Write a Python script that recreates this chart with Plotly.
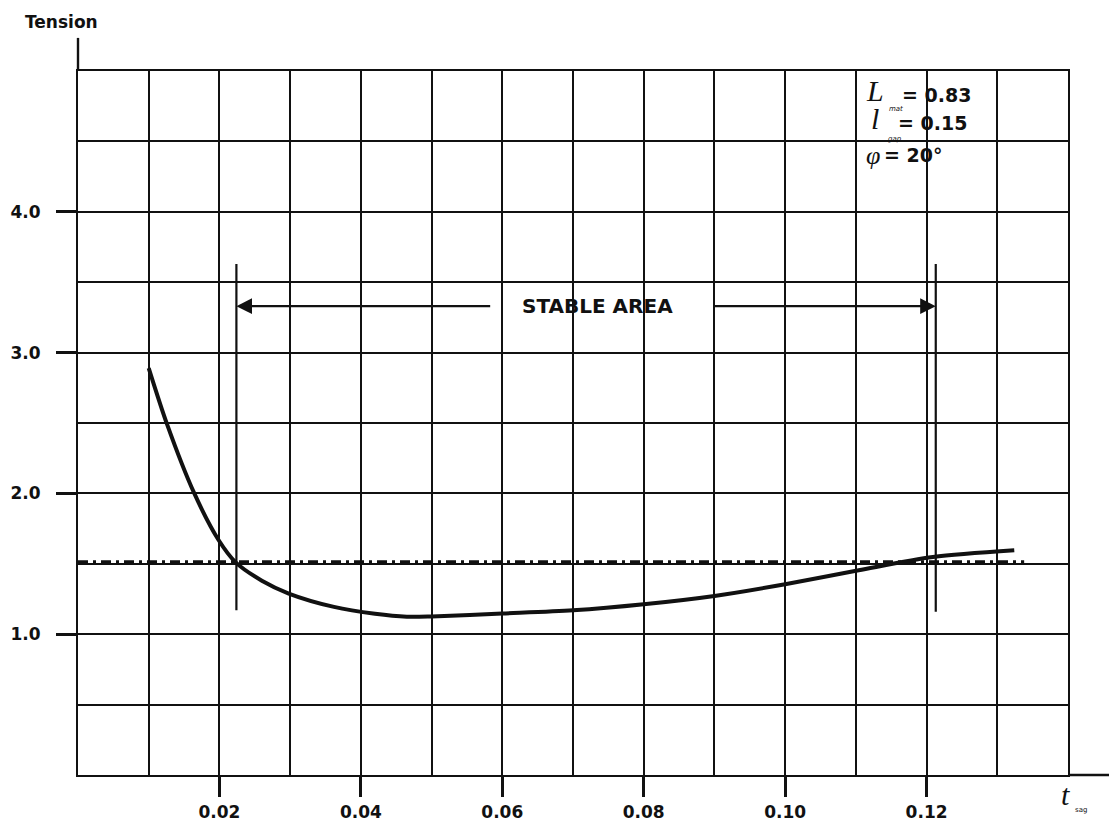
import plotly.graph_objects as go

# ---- data ----
t_sag = [0.0100, 0.0126, 0.0164, 0.0199, 0.0223, 0.0260, 0.0298, 0.0362, 0.0420, 0.0465,
         0.0500, 0.0600, 0.0700, 0.0800, 0.0900, 0.1000, 0.1104, 0.1209, 0.1324]
tension = [2.89, 2.49, 2.005, 1.667, 1.51, 1.38, 1.289, 1.194, 1.145, 1.124,
           1.126, 1.147, 1.170, 1.213, 1.272, 1.355, 1.454, 1.548, 1.596]

limit_tension = 1.513          # dash-dot reference level
limit_x = [0.0, 0.1338]

stable_left = 0.0224
stable_right = 0.1213
stable_ybot = [1.17, 1.16]
stable_ytop = 3.63
arrow_y = 3.33

x_tickvals = [0.02, 0.04, 0.06, 0.08, 0.10, 0.12]
x_ticktext = ["0.02", "0.04", "0.06", "0.08", "0.10", "0.12"]
y_tickvals = [1.0, 2.0, 3.0, 4.0]
y_ticktext = ["1.0", "2.0", "3.0", "4.0"]

SANS = "DejaVu Sans, Liberation Sans, Arial, sans-serif"
SERIF = "Liberation Serif, Times New Roman, serif"
INK = "#111111"

fig = go.Figure()

# dash-dot limit line
fig.add_trace(go.Scatter(x=limit_x, y=[limit_tension, limit_tension], mode="lines",
                         line=dict(color=INK, width=3.2, dash="10px,5px,3px,5px"),
                         hoverinfo="skip", showlegend=False))

# stable-area vertical markers
fig.add_trace(go.Scatter(x=[stable_left, stable_left], y=[stable_ybot[0], stable_ytop], mode="lines",
                         line=dict(color=INK, width=2.2), hoverinfo="skip", showlegend=False))
fig.add_trace(go.Scatter(x=[stable_right, stable_right], y=[stable_ybot[1], stable_ytop], mode="lines",
                         line=dict(color=INK, width=2.2), hoverinfo="skip", showlegend=False))

# tension curve
fig.add_trace(go.Scatter(x=t_sag, y=tension, mode="lines",
                         line=dict(color=INK, width=4, shape="spline", smoothing=0.8),
                         showlegend=False))

axis_common = dict(showline=True, linecolor=INK, linewidth=2.2, mirror=True,
                   showgrid=True, gridcolor=INK, gridwidth=1.5,
                   ticks="outside", ticklen=20, tickwidth=2.6, tickcolor=INK,
                   zeroline=False, automargin=False,
                   tickfont=dict(family=SANS, size=17, color=INK, weight="bold"))

fig.update_xaxes(range=[0, 0.14], tickvals=x_tickvals, ticktext=x_ticktext,
                 minor=dict(tick0=0, dtick=0.01, showgrid=True, gridcolor=INK, gridwidth=1.5, ticks=""),
                 **axis_common)
fig.update_yaxes(range=[0, 5], tickvals=y_tickvals, ticktext=y_ticktext,
                 minor=dict(tick0=0, dtick=0.5, showgrid=True, gridcolor=INK, gridwidth=1.5, ticks=""),
                 ticklabelstandoff=12, **axis_common)

# axis extensions
fig.add_shape(type="line", xref="paper", yref="paper", x0=1, x1=1.06, y0=0, y1=0,
              line=dict(color=INK, width=2.4))
fig.add_shape(type="line", xref="paper", yref="paper", x0=0, x1=0, y0=1, y1=1.047,
              line=dict(color=INK, width=2.4))

# arrows
for tip, tail in [(stable_left, 0.0585), (stable_right, 0.0896)]:
    fig.add_annotation(x=tip, y=arrow_y, ax=tail, ay=arrow_y, xref="x", yref="y",
                       axref="x", ayref="y", text="", showarrow=True,
                       arrowhead=2, arrowsize=1.3, arrowwidth=2.4, arrowcolor=INK)
fig.add_annotation(x=0.0734, y=arrow_y, xref="x", yref="y", text="STABLE AREA",
                   showarrow=False, font=dict(family=SANS, size=20, color=INK, weight="bold"))

# parameter box text
fig.add_annotation(x=0.1111, y=4.86, xref="x", yref="y", xanchor="left", text="<i>L</i>",
                   showarrow=False, font=dict(family=SERIF, size=30, color=INK))
fig.add_annotation(x=0.1144, y=4.73, xref="x", yref="y", xanchor="left", text="<i>mat</i>",
                   showarrow=False, font=dict(family=SANS, size=7, color=INK))
fig.add_annotation(x=0.1162, y=4.83, xref="x", yref="y", xanchor="left", text="= 0.83",
                   showarrow=False, font=dict(family=SANS, size=19, color=INK, weight="bold"))

fig.add_annotation(x=0.1119, y=4.66, xref="x", yref="y", xanchor="left", text="<i>l</i>",
                   showarrow=False, font=dict(family=SERIF, size=30, color=INK))
fig.add_annotation(x=0.1143, y=4.52, xref="x", yref="y", xanchor="left", text="<i>gap</i>",
                   showarrow=False, font=dict(family=SANS, size=7, color=INK))
fig.add_annotation(x=0.1157, y=4.63, xref="x", yref="y", xanchor="left", text="= 0.15",
                   showarrow=False, font=dict(family=SANS, size=19, color=INK, weight="bold"))

fig.add_annotation(x=0.1111, y=4.40, xref="x", yref="y", xanchor="left", text="<i>φ</i>",
                   showarrow=False, font=dict(family=SERIF, size=26, color=INK))
fig.add_annotation(x=0.1137, y=4.40, xref="x", yref="y", xanchor="left", text="= 20°",
                   showarrow=False, font=dict(family=SANS, size=19, color=INK, weight="bold"))

# axis titles
fig.add_annotation(x=-0.056, y=1.07, xref="paper", yref="paper", xanchor="left", yanchor="middle",
                   text="Tension", showarrow=False,
                   font=dict(family=SANS, size=17, color=INK, weight="bold"))
fig.add_annotation(x=0.997, y=-0.028, xref="paper", yref="paper", xanchor="center", yanchor="middle",
                   text="<i>t</i>", showarrow=False, font=dict(family=SERIF, size=30, color=INK))
fig.add_annotation(x=1.013, y=-0.05, xref="paper", yref="paper", xanchor="center", yanchor="middle",
                   text="sag", showarrow=False, font=dict(family=SANS, size=7, color=INK))

fig.update_layout(width=1117, height=823,
                  margin=dict(l=70, r=57, t=63, b=56),
                  paper_bgcolor="white", plot_bgcolor="white",
                  showlegend=False)

fig.write_html("out.html")
